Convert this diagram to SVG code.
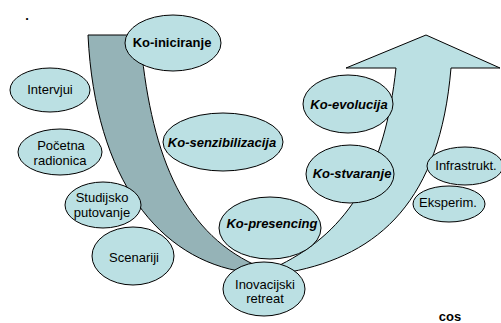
<svg xmlns="http://www.w3.org/2000/svg" width="501" height="323" viewBox="0 0 501 323">
<style>
.bg{fill:#ffffff}
.dark{fill:#95b3b7;stroke:#000;stroke-width:1}
.light{fill:#bbe0e3;stroke:#000;stroke-width:1}
.node ellipse{fill:#bbe0e3;stroke:#000;stroke-width:1}
text{font-family:"Liberation Sans",Arial,sans-serif;font-size:13px;fill:#000;text-anchor:middle}
.b{font-weight:bold}
.bi{font-weight:bold;font-style:italic}
</style>
<rect class="bg" x="0" y="0" width="501" height="323"/>
<text class="b" x="27" y="20" font-size="16">.</text>
<g id="connectors">
<path class="dark" d="M88,35 L140,35 C150,150 180,230 255,265 L245,272 C160,260 95,180 88,35 Z"/>
<path class="light" d="M346,68 L426,35 L500,68 L451,68 C440,200 380,255 290,272 L280,265 C350,230 385,170 396,68 Z"/>
</g>
<g id="ko-iniciranje" class="node"><ellipse cx="173" cy="43" rx="48" ry="28"/><text class="b" x="172" y="47">Ko-iniciranje</text></g>
<g id="intervjui" class="node"><ellipse cx="50" cy="90" rx="40" ry="22"/><text x="50" y="94">Intervjui</text></g>
<g id="pocetna" class="node"><ellipse cx="60" cy="152" rx="42" ry="23"/><text x="61" y="150">Početna</text><text x="60" y="165">radionica</text></g>
<g id="studijsko" class="node"><ellipse cx="103" cy="205" rx="38" ry="23"/><text x="102" y="202">Studijsko</text><text x="102" y="217">putovanje</text></g>
<g id="scenariji" class="node"><ellipse cx="133" cy="256" rx="41" ry="29"/><text x="134" y="262">Scenariji</text></g>
<g id="ko-senzibilizacija" class="node"><ellipse cx="223" cy="142" rx="60" ry="29"/><text class="bi" x="222" y="147">Ko-senzibilizacija</text></g>
<g id="ko-presencing" class="node"><ellipse cx="270" cy="228" rx="51" ry="31"/><text class="bi" x="272" y="228">Ko-presencing</text></g>
<g id="inovacijski" class="node"><ellipse cx="264" cy="289" rx="41" ry="27"/><text x="265" y="289">Inovacijski</text><text x="265" y="303">retreat</text></g>
<g id="ko-evolucija" class="node"><ellipse cx="348" cy="104" rx="45" ry="29"/><text class="bi" x="349" y="109">Ko-evolucija</text></g>
<g id="ko-stvaranje" class="node"><ellipse cx="350" cy="174" rx="44" ry="29"/><text class="bi" x="352" y="178">Ko-stvaranje</text></g>
<g id="infrastrukt" class="node"><ellipse cx="465" cy="166" rx="38" ry="19"/><text x="466" y="170">Infrastrukt.</text></g>
<g id="eksperim" class="node"><ellipse cx="449" cy="204" rx="36" ry="18"/><text x="448" y="207">Eksperim.</text></g>
<text class="b" x="450" y="321" font-size="12">cos</text>
</svg>
